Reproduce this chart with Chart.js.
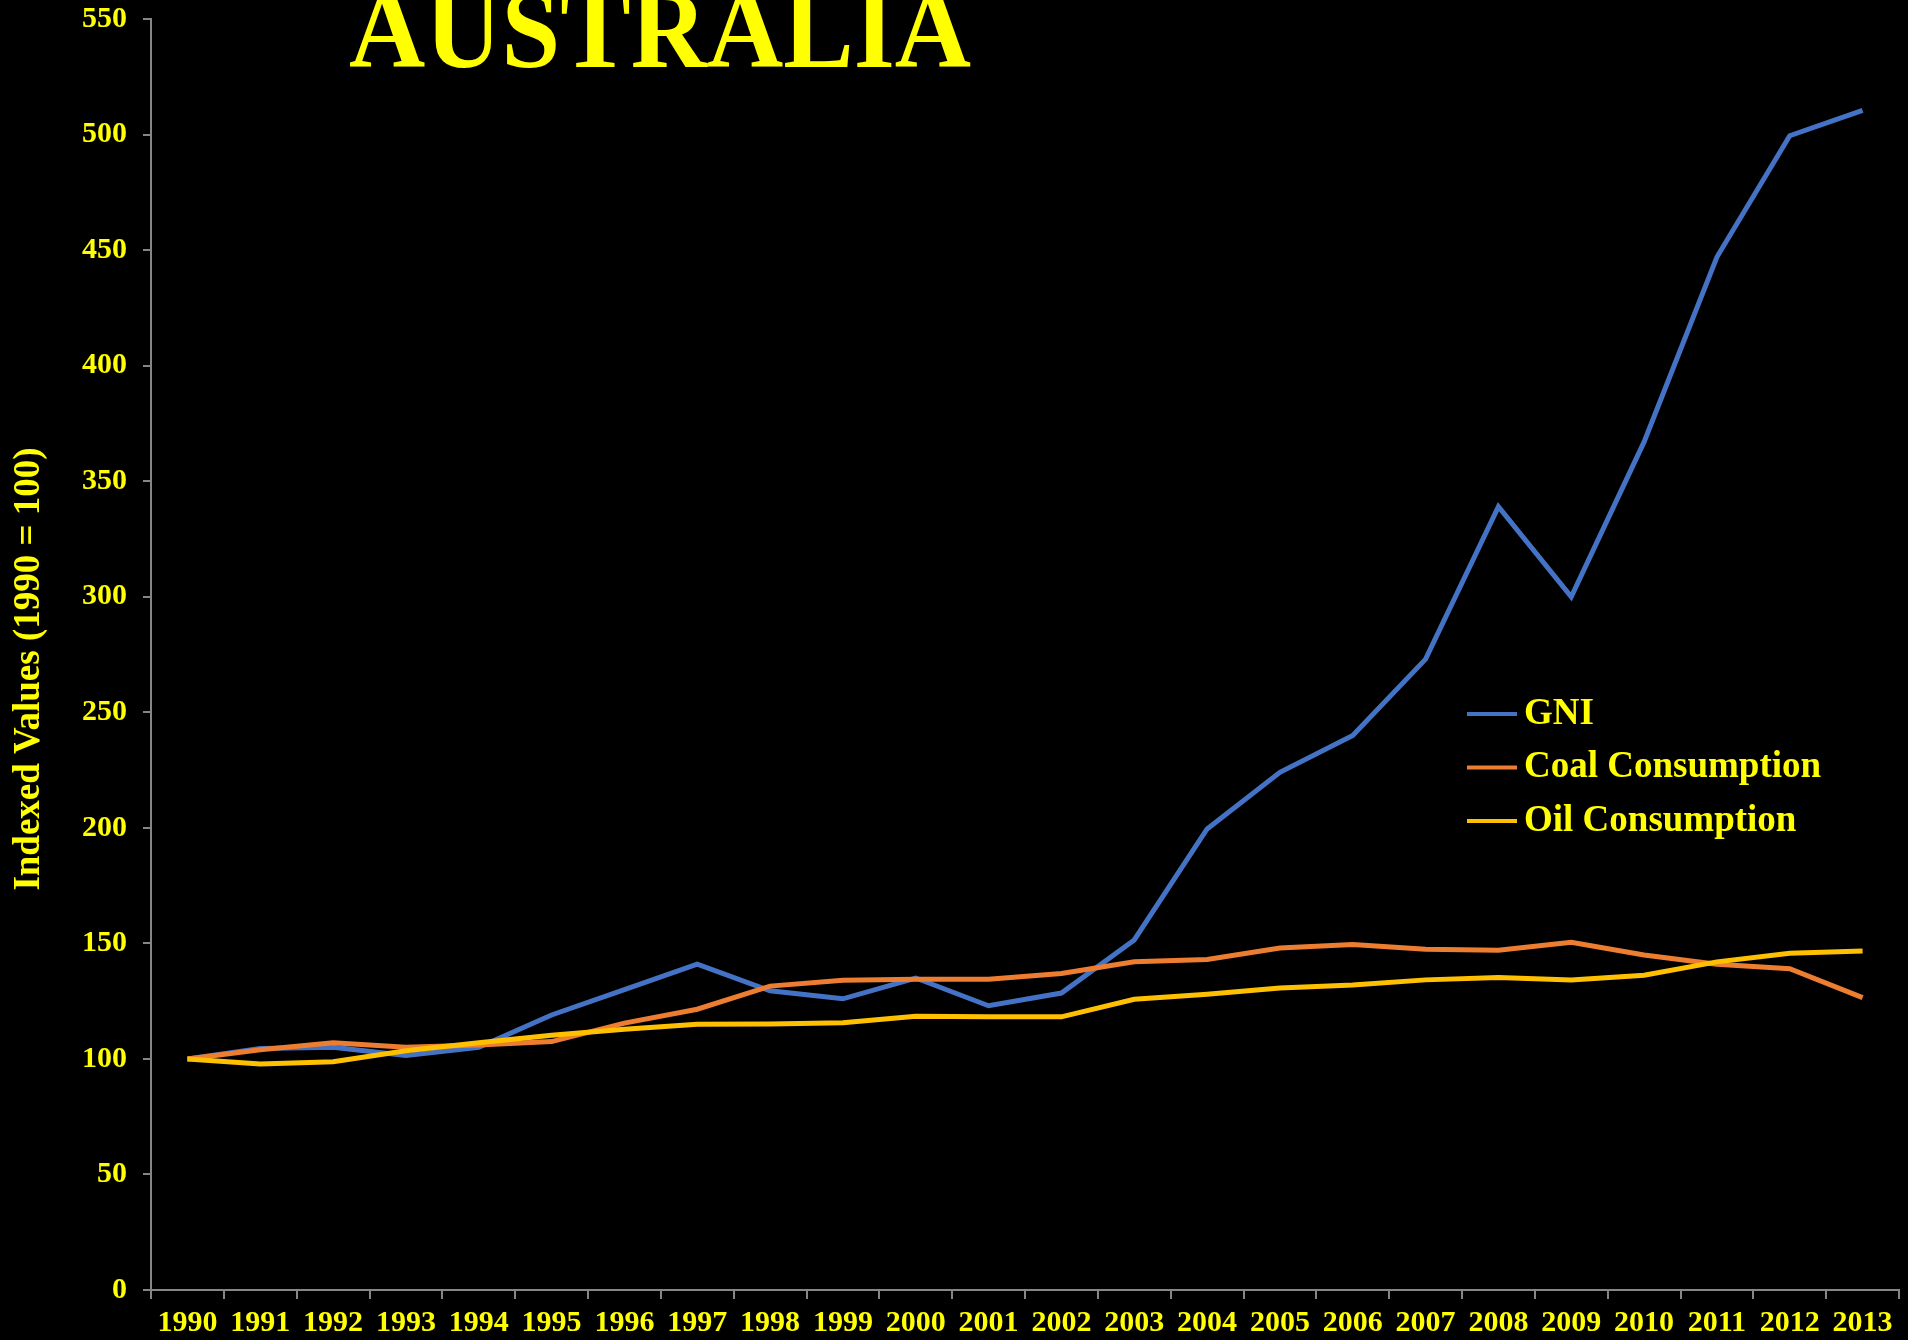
<!DOCTYPE html>
<html>
<head>
<meta charset="utf-8">
<script src="https://cdn.jsdelivr.net/npm/chart.js@4.4.1/dist/chart.umd.min.js"></script>
<style>
  html, body { margin: 0; padding: 0; background: #000; }
  #wrap { width: 1908px; height: 1340px; position: relative; }
</style>
</head>
<body>
<div id="wrap"><canvas id="chart"></canvas></div>
<script>
// data (index, 1990 = 100)
const years = ["1990", "1991", "1992", "1993", "1994", "1995", "1996", "1997", "1998", "1999", "2000", "2001",
  "2002", "2003", "2004", "2005", "2006", "2007", "2008", "2009", "2010", "2011", "2012", "2013"];
const gni = [100, 104.5, 105, 101.5, 105, 119, 130, 141, 129.5, 126, 135, 123,
  128.5, 151.5, 199.5, 224, 240, 273, 339, 300, 367, 447, 499.5, 510.5];
const coal = [100, 104, 107, 105, 106, 107.5, 115.5, 121.5, 131.5, 134, 134.5, 134.5,
  137, 142, 143, 148, 149.5, 147.5, 147, 150.5, 145, 141, 139, 126.5];
const oil = [100, 97.8, 98.8, 103.5, 107, 110.2, 112.8, 115, 115.1, 115.6, 118.5, 118.2,
  118.2, 125.8, 128, 130.7, 132, 134.2, 135.2, 134.2, 136.2, 142, 145.7, 146.7];
const yTicks = [0, 50, 100, 150, 200, 250, 300, 350, 400, 450, 500, 550];

const chartTitle = "AUSTRALIA";
const yTitle = "Indexed Values (1990 = 100)";

const YELLOW = "#ffff00";
const AXIS = "#868686";
const SERIF = "'Liberation Serif', 'Times New Roman', serif";

// big title, y-axis title and legend are drawn straight onto the canvas
const overlay = {
  id: "overlay",
  afterDraw(chart) {
    const ctx = chart.ctx;
    ctx.save();
    ctx.fillStyle = YELLOW;
    ctx.font = "bold 112px " + SERIF;
    ctx.textBaseline = "alphabetic";
    ctx.textAlign = "left";
    const w = ctx.measureText(chartTitle).width;
    ctx.translate(349, 67);
    ctx.scale(622 / w, 1);
    ctx.fillText(chartTitle, 0, 0);
    ctx.restore();

    // axis title sits a bit below the axis middle in the original
    ctx.save();
    ctx.fillStyle = YELLOW;
    ctx.font = "bold 37px " + SERIF;
    ctx.textAlign = "center";
    ctx.textBaseline = "middle";
    ctx.translate(29, 669);
    ctx.rotate(-Math.PI / 2);
    ctx.fillText(yTitle, 0, 0);
    ctx.restore();

    ctx.save();
    ctx.font = "bold 37px " + SERIF;
    ctx.textBaseline = "middle";
    chart.data.datasets.forEach((ds, i) => {
      const y = 714 + i * 53.5;
      ctx.strokeStyle = ds.borderColor;
      ctx.lineWidth = 4;
      ctx.beginPath();
      ctx.moveTo(1467, y);
      ctx.lineTo(1517, y);
      ctx.stroke();
      ctx.fillStyle = YELLOW;
      ctx.fillText(ds.label, 1524, y);
    });
    ctx.restore();
  },
};

new Chart(document.getElementById("chart"), {
  type: "line",
  data: {
    labels: years,
    datasets: [
      { label: "GNI", data: gni, borderColor: "#4472c4", order: 3 },
      { label: "Coal Consumption", data: coal, borderColor: "#ed7d31", order: 2 },
      { label: "Oil Consumption", data: oil, borderColor: "#ffc000", order: 1 },
    ],
  },
  options: {
    responsive: true,
    maintainAspectRatio: false,
    animation: false,
    layout: { padding: { top: 19, right: 9, left: 0, bottom: 0 } },
    elements: {
      line: { borderWidth: 5, tension: 0, fill: false },
      point: { radius: 0 },
    },
    plugins: {
      legend: { display: false },
      tooltip: { enabled: false },
    },
    scales: {
      x: {
        offset: true,
        afterFit: (s) => { s.height = 50; },
        grid: {
          offset: true,
          drawOnChartArea: false,
          drawTicks: true,
          tickLength: 9,
          color: AXIS,
          lineWidth: 2,
        },
        border: { color: AXIS, width: 2 },
        ticks: {
          color: YELLOW,
          font: { family: SERIF, size: 30, weight: "bold" },
          padding: 6,
          maxRotation: 0,
          autoSkip: false,
        },
      },
      y: {
        min: 0,
        max: 550,
        afterFit: (s) => { s.width = 151; s.paddingTop = 0; s.paddingBottom = 0; },
        afterBuildTicks: (s) => { s.ticks = yTicks.map((v) => ({ value: v })); },
        grid: {
          drawOnChartArea: false,
          drawTicks: true,
          tickLength: 8,
          color: AXIS,
          lineWidth: 2,
        },
        border: { color: AXIS, width: 2 },
        ticks: {
          color: YELLOW,
          font: { family: SERIF, size: 30, weight: "bold" },
          padding: 16,
        },
      },
    },
  },
  plugins: [overlay],
});
</script>
</body>
</html>
